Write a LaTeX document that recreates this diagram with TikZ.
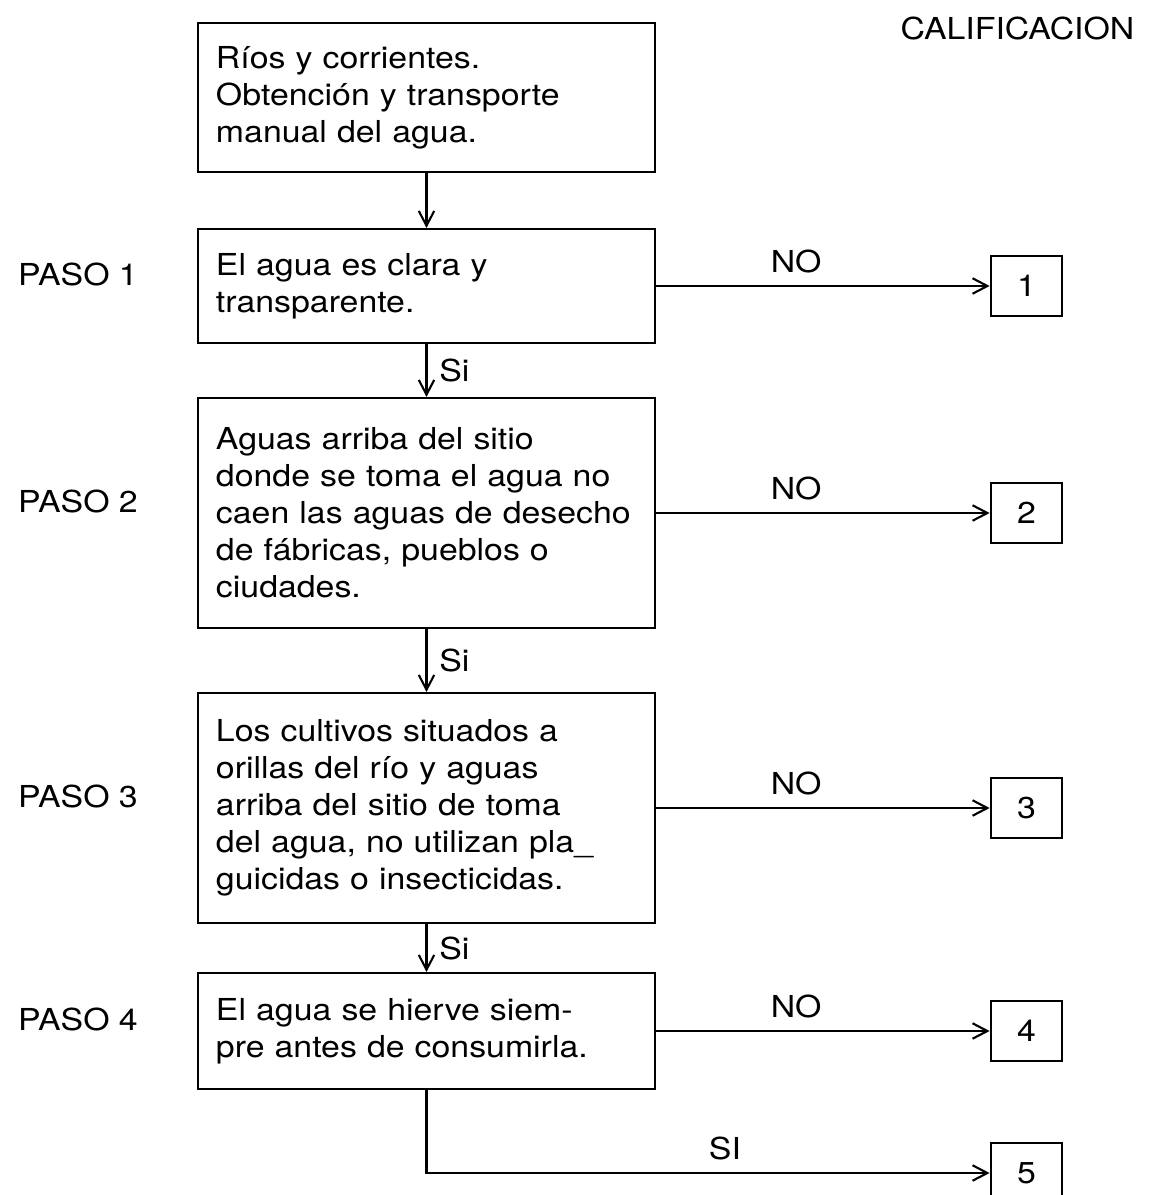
\documentclass[tikz,border=0pt]{standalone}
\usepackage{fontspec}
\setmainfont{TeX Gyre Heros}[FakeStretch=1.12]
\usetikzlibrary{arrows.meta}
\usetikzlibrary{positioning}
\tikzstyle{caja} = [rectangle, text width=4.21cm, inner xsep=0.18cm, align=left, draw=black, line width=0.6pt]
\tikzstyle{nota} = [rectangle, minimum width=0.71cm, minimum height=0.6cm, draw=black, line width=0.8pt]
\tikzstyle{arrow} = [line width=0.6pt,-{Straight Barb[length=4.2pt,width=4.4pt]}]

\begin{document}
\begin{tikzpicture}[node distance=2cm, font=\fontsize{8.6}{10.5}\selectfont]

\useasboundingbox (-4.265,0.975) rectangle (7.225,-10.975);

\node (rios) [caja, minimum height=1.49cm] {Ríos y corrientes.\\Obtención y transporte\\manual del agua.};

\node (paso1) [caja, minimum height=1.14cm, below of=rios, yshift=0.115cm] {El agua es clara y\\transparente.};

\node (paso2) [caja, minimum height=2.3cm, below of=paso1, yshift=-0.27cm] {Aguas arriba del sitio\\donde se toma el agua no\\caen las aguas de desecho\\de fábricas, pueblos o\\ciudades.};

\node (paso3) [caja, minimum height=2.3cm, below of=paso2, yshift=-0.95cm] {Los cultivos situados a\\orillas del río y aguas\\arriba del sitio de toma\\del agua, no utilizan pla\_\\guicidas o insecticidas.};

\node (paso4) [caja, minimum height=1.16cm, below of=paso3, yshift=-0.23cm] {El agua se hierve siem-\\pre antes de consumirla.};

\node (nota1) [nota, right of=paso1, xshift=4cm] {1};

\node (nota2) [nota, right of=paso2, xshift=4cm] {2};

\node (nota3) [nota, right of=paso3, xshift=4cm] {3};

\node (nota4) [nota, right of=paso4, xshift=4cm] {4};

\node (nota5) [nota, below of=nota4, yshift=0.58cm] {5};

\node (lab1) [left of=paso1, xshift=-1.485cm, yshift=0.12cm] {PASO 1};

\node (lab2) [left of=paso2, xshift=-1.485cm, yshift=0.12cm] {PASO 2};

\node (lab3) [left of=paso3, xshift=-1.485cm, yshift=0.12cm] {PASO 3};

\node (lab4) [left of=paso4, xshift=-1.485cm, yshift=0.12cm] {PASO 4};

\node (titulo) [above of=nota1, xshift=-0.09cm, yshift=0.58cm] {CALIFICACION};


\draw [arrow] (rios) -- (paso1);
\draw [arrow] (paso1) -- node[anchor=west] {Si} (paso2);
\draw [arrow] (paso2) -- node[anchor=west] {Si} (paso3);
\draw [arrow] (paso3) -- node[anchor=west] {Si} (paso4);
\draw [arrow] (paso1) -- node[pos=0.42, anchor=south] {NO} (nota1);
\draw [arrow] (paso2) -- node[pos=0.42, anchor=south] {NO} (nota2);
\draw [arrow] (paso3) -- node[pos=0.42, anchor=south] {NO} (nota3);
\draw [arrow] (paso4) -- node[pos=0.42, anchor=south] {NO} (nota4);
\draw [arrow] (paso4) |- node[pos=0.765, anchor=south] {SI} (nota5);


\end{tikzpicture}
\end{document}
